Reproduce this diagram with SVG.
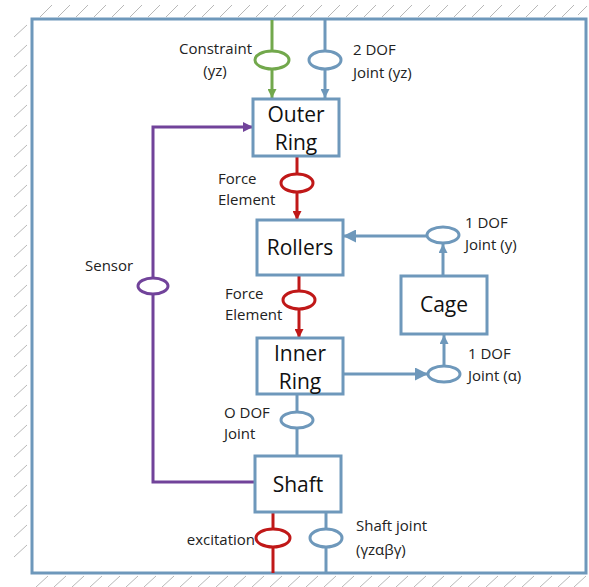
<svg xmlns="http://www.w3.org/2000/svg" width="589" height="587" viewBox="0 0 589 587">
<style>
.hatch{stroke:#b8b8b8;stroke-width:1;fill:none}
.frame{fill:#fff;stroke:#6e98bb;stroke-width:3}
.box{fill:#fff;stroke:#6e98bb;stroke-width:3}
.bl{stroke:#6e98bb;stroke-width:3;fill:none}
.gr{stroke:#72a84c;stroke-width:3;fill:none}
.rd{stroke:#c01818;stroke-width:3;fill:none}
.pu{stroke:#71439a;stroke-width:3;fill:none}
.je{fill:#fff;stroke-width:3}
.lbl{font-family:"Open Sans","Liberation Sans",sans-serif;font-size:15px;fill:#222}
.nt{font-family:"Open Sans","Liberation Sans",sans-serif;font-size:21px;fill:#111;text-anchor:middle}
</style>
<defs>
<marker id="ab" viewBox="0 0 10 10" refX="10" refY="5" markerWidth="9" markerHeight="9" markerUnits="userSpaceOnUse" orient="auto"><path d="M0,0 L10,5 L0,10 z" fill="#6e98bb"/></marker>
<marker id="abL" viewBox="0 0 10 10" refX="10" refY="5" markerWidth="13" markerHeight="13" markerUnits="userSpaceOnUse" orient="auto"><path d="M0,0 L10,5 L0,10 z" fill="#6e98bb"/></marker>
<marker id="ag" viewBox="0 0 10 10" refX="10" refY="5" markerWidth="9" markerHeight="9" markerUnits="userSpaceOnUse" orient="auto"><path d="M0,0 L10,5 L0,10 z" fill="#72a84c"/></marker>
<marker id="ar" viewBox="0 0 10 10" refX="10" refY="5" markerWidth="9" markerHeight="9" markerUnits="userSpaceOnUse" orient="auto"><path d="M0,0 L10,5 L0,10 z" fill="#c01818"/></marker>
<marker id="ap" viewBox="0 0 10 10" refX="10" refY="5" markerWidth="10" markerHeight="10" markerUnits="userSpaceOnUse" orient="auto"><path d="M0,0 L10,5 L0,10 z" fill="#71439a"/></marker>
</defs>
<rect width="589" height="587" fill="#fff"/>
<g id="hatching" class="hatch">
<path d="M40 17l12-12M58 17l12-12M76 17l12-12M94 17l12-12M112 17l12-12M130 17l12-12M148 17l12-12M166 17l12-12M184 17l12-12M202 17l12-12M220 17l12-12M238 17l12-12M256 17l12-12M274 17l12-12M292 17l12-12M310 17l12-12M328 17l12-12M346 17l12-12M364 17l12-12M382 17l12-12M400 17l12-12M418 17l12-12M436 17l12-12M454 17l12-12M472 17l12-12M490 17l12-12M508 17l12-12M526 17l12-12M544 17l12-12M562 17l12-12M578 15l9-9"/>
<path d="M14 37l13-12M14 57l13-12M14 77l13-12M14 97l13-12M14 117l13-12M14 137l13-12M14 157l13-12M14 177l13-12M14 197l13-12M14 217l13-12M14 237l13-12M14 257l13-12M14 277l13-12M14 297l13-12M14 317l13-12M14 337l13-12M14 357l13-12M14 377l13-12M14 397l13-12M14 417l13-12M14 437l13-12M14 457l13-12M14 477l13-12M14 497l13-12M14 517l13-12M14 537l13-12M14 557l13-12"/>
<path d="M36 587l12-11M54 587l12-11M72 587l12-11M90 587l12-11M108 587l12-11M126 587l12-11M144 587l12-11M162 587l12-11M180 587l12-11M198 587l12-11M216 587l12-11M234 587l12-11M252 587l12-11M270 587l12-11M288 587l12-11M306 587l12-11M324 587l12-11M342 587l12-11M360 587l12-11M378 587l12-11M396 587l12-11M414 587l12-11M432 587l12-11M450 587l12-11M468 587l12-11M486 587l12-11M504 587l12-11M522 587l12-11M540 587l12-11M558 587l12-11M574 587l12-11"/>
</g>
<rect id="frame" class="frame" x="32" y="19" width="554" height="554"/>
<g id="connectors">
<line class="gr" x1="272" y1="20" x2="272" y2="98" marker-end="url(#ag)"/>
<line class="bl" x1="325" y1="20" x2="325" y2="98" marker-end="url(#ab)"/>
<line class="rd" x1="297" y1="156" x2="297" y2="220" marker-end="url(#ar)"/>
<line class="rd" x1="299" y1="275" x2="299" y2="338" marker-end="url(#ar)"/>
<line class="bl" x1="297" y1="394" x2="297" y2="456"/>
<path class="pu" d="M255 482H153V127H253" marker-end="url(#ap)"/>
<line class="bl" x1="443" y1="276" x2="443" y2="244" marker-end="url(#ab)"/>
<line class="bl" x1="427" y1="236" x2="343" y2="236" marker-end="url(#abL)"/>
<line class="bl" x1="343" y1="374" x2="428" y2="374" marker-end="url(#abL)"/>
<line class="bl" x1="444" y1="366" x2="444" y2="335" marker-end="url(#ab)"/>
<line class="rd" x1="273" y1="512" x2="273" y2="573"/>
<line class="bl" x1="326" y1="512" x2="326" y2="573"/>
<ellipse class="je" stroke="#72a84c" cx="272" cy="60" rx="17" ry="9"/>
<ellipse class="je" stroke="#6e98bb" cx="325" cy="60" rx="16" ry="9"/>
<ellipse class="je" stroke="#c01818" cx="297" cy="183" rx="16" ry="9"/>
<ellipse class="je" stroke="#c01818" cx="299" cy="300" rx="16" ry="9"/>
<ellipse class="je" stroke="#6e98bb" cx="297" cy="420" rx="16" ry="8"/>
<ellipse class="je" stroke="#71439a" cx="153" cy="286" rx="15" ry="8"/>
<ellipse class="je" stroke="#6e98bb" cx="443" cy="235" rx="16" ry="8"/>
<ellipse class="je" stroke="#6e98bb" cx="444" cy="374" rx="16" ry="8"/>
<ellipse class="je" stroke="#c01818" cx="273" cy="538" rx="17" ry="9"/>
<ellipse class="je" stroke="#6e98bb" cx="326" cy="538" rx="16" ry="9"/>
<text class="lbl" x="252" y="54" text-anchor="end">Constraint</text>
<text class="lbl" x="215" y="76" text-anchor="middle">(yz)</text>
<text class="lbl" x="353" y="55">2 DOF</text>
<text class="lbl" x="353" y="78">Joint (yz)</text>
<text class="lbl" x="218" y="184">Force</text>
<text class="lbl" x="218" y="205">Element</text>
<text class="lbl" x="225" y="299">Force</text>
<text class="lbl" x="225" y="320">Element</text>
<text class="lbl" x="85" y="271">Sensor</text>
<text class="lbl" x="465" y="228">1 DOF</text>
<text class="lbl" x="465" y="250">Joint (y)</text>
<text class="lbl" x="468" y="359">1 DOF</text>
<text class="lbl" x="468" y="381">Joint (α)</text>
<text class="lbl" x="224" y="418">O DOF</text>
<text class="lbl" x="224" y="439">Joint</text>
<text class="lbl" x="255" y="545" text-anchor="end">excitation</text>
<text class="lbl" x="356" y="531">Shaft joint</text>
<text class="lbl" x="356" y="555">(γzαβγ)</text>
</g>
<g id="outer-ring"><rect class="box" x="253" y="99" width="86" height="57"/><text class="nt" x="296" y="122">Outer</text><text class="nt" x="296" y="150">Ring</text></g>
<g id="rollers"><rect class="box" x="257" y="220" width="86" height="55"/><text class="nt" x="300" y="255">Rollers</text></g>
<g id="cage"><rect class="box" x="401" y="276" width="86" height="58"/><text class="nt" x="444" y="312">Cage</text></g>
<g id="inner-ring"><rect class="box" x="257" y="338" width="86" height="56"/><text class="nt" x="300" y="361">Inner</text><text class="nt" x="300" y="389">Ring</text></g>
<g id="shaft"><rect class="box" x="255" y="456" width="86" height="56"/><text class="nt" x="298" y="492">Shaft</text></g>
</svg>
